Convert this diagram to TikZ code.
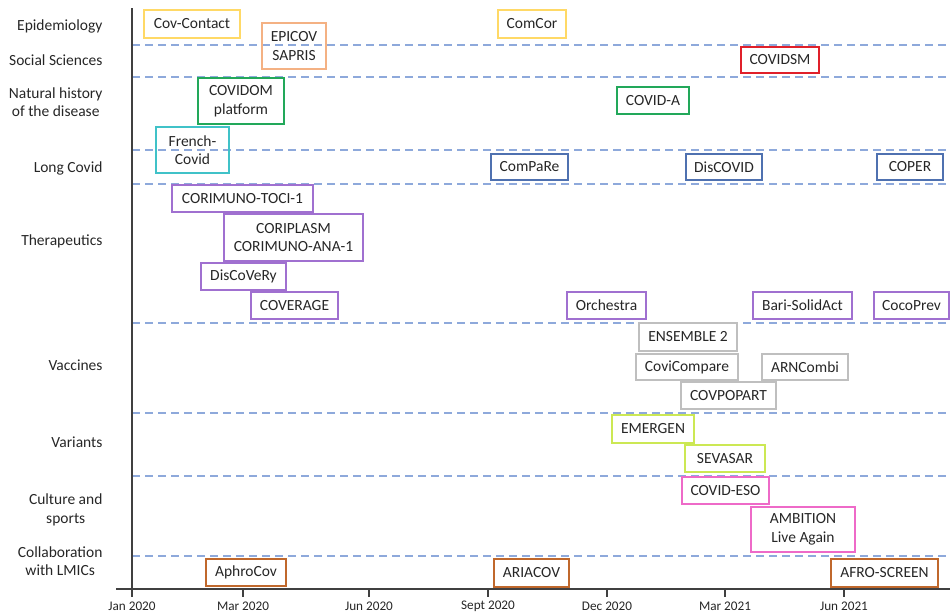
\documentclass[tikz,border=0pt]{standalone}
\usepackage{fontspec}
\setmainfont{Carlito}
\definecolor{epiyel}{HTML}{FFD966}
\definecolor{socorange}{HTML}{F4B183}
\definecolor{natgreen}{HTML}{22A85A}
\definecolor{longteal}{HTML}{40C2C8}
\definecolor{longblue}{HTML}{4F71B0}
\definecolor{socred}{HTML}{E0202A}
\definecolor{therpurple}{HTML}{A070D0}
\definecolor{vacgray}{HTML}{BFBFBF}
\definecolor{varlime}{HTML}{CCE854}
\definecolor{culpink}{HTML}{EE6AC8}
\definecolor{lmicbrown}{HTML}{C0682C}
\definecolor{sepblue}{HTML}{8EA9DB}
\begin{document}
\begin{tikzpicture}[x=1pt,y=-1pt,
    proj/.style={draw, line width=1.6pt, inner sep=0pt, outer sep=0pt, align=center,
      text=black!85, font=\fontsize{15.5}{18.5}\selectfont},
    theme/.style={anchor=east, align=center, text=black!85, font=\fontsize{15.5}{18.5}\selectfont},
    sep/.style={sepblue, line width=1.3pt, dash pattern=on 8pt off 5pt},
    axis/.style={black!75, line width=1.3pt}]
    \useasboundingbox (0,0) rectangle (950,613);
    % themes on the left
    \foreach \y/\txt [count=\i] in {26/Epidemiology, 60/Social Sciences,
        102/{Natural history\\of the disease}, 168/Long Covid, 241/Therapeutics,
        365/Vaccines, 442/Variants, 510/{Culture and\\sports},
        561/{Collaboration\\with LMICs}}
      \node[theme] (theme\i) at (106,\y) {\txt};
    % separators
    \foreach \y in {45,77,150,184,323,413,476,556}
      \draw[sep] (132,\y) -- (950,\y);
    % axes
    \draw[axis] (132,8) -- (132,589);
    \draw[axis] (116,589) -- (950,589);
    \foreach \x/\txt [count=\i] in {132/Jan 2020, 243/Mar 2020, 369/Jun 2020, 488/Sept 2020,
        607/Dec 2020, 725/Mar 2021, 844/Jun 2021}{
      \draw[axis] (\x,589) -- (\x,597);
      \node[text=black!85, font=\fontsize{13.2}{15}\selectfont] (date\i) at (\x,606) {\txt};
    }
    % projects
    \foreach \nm/\xa/\ya/\xb/\yb/\col/\txt in {
        covcontact/144/10/240/38/epiyel/Cov-Contact,
        comcor/498/10/566/38/epiyel/ComCor,
        epicov/262/23/326/69/socorange/{EPICOV\\SAPRIS},
        covidsm/741/47/819/73/socred/COVIDSM,
        covidom/198/78/284/124/natgreen/{COVIDOM\\platform},
        covida/617/87/689/114/natgreen/COVID-A,
        frenchcovid/156/127/229/173/longteal/{French-\\Covid},
        compare/491/154/568/180/longblue/ComPaRe,
        discovid/686/154/762/180/longblue/DisCOVID,
        coper/877/154/943/180/longblue/COPER,
        toci/172/185/313/212/therpurple/CORIMUNO-TOCI-1,
        coriplasm/224/214/363/261/therpurple/{CORIPLASM\\CORIMUNO-ANA-1},
        discovery/201/263/286/290/therpurple/DisCoVeRy,
        coverage/251/292/338/319/therpurple/COVERAGE,
        orchestra/567/292/646/319/therpurple/Orchestra,
        barisolid/753/292/852/319/therpurple/Bari-SolidAct,
        cocoprev/874/292/949/319/therpurple/CocoPrev,
        ensemble/639/323/737/351/vacgray/ENSEMBLE 2,
        covicompare/636/354/738/380/vacgray/CoviCompare,
        arncombi/762/354/848/380/vacgray/ARNCombi,
        covpopart/681/382/776/409/vacgray/COVPOPART,
        emergen/612/415/694/443/varlime/EMERGEN,
        sevasar/685/445/765/472/varlime/SEVASAR,
        covideso/682/477/769/504/culpink/COVID-ESO,
        ambition/751/507/855/552/culpink/{AMBITION\\Live Again},
        aphrocov/206/559/286/586/lmicbrown/AphroCov,
        ariacov/494/559/569/587/lmicbrown/ARIACOV,
        afroscreen/831/559/938/587/lmicbrown/AFRO-SCREEN}
      \node[proj, draw=\col, minimum width={(\xb-\xa)*1pt}, minimum height={(\yb-\ya)*1pt}]
        (\nm) at ({(\xa+\xb)/2},{(\ya+\yb)/2}) {\txt};
\end{tikzpicture}
\end{document}
